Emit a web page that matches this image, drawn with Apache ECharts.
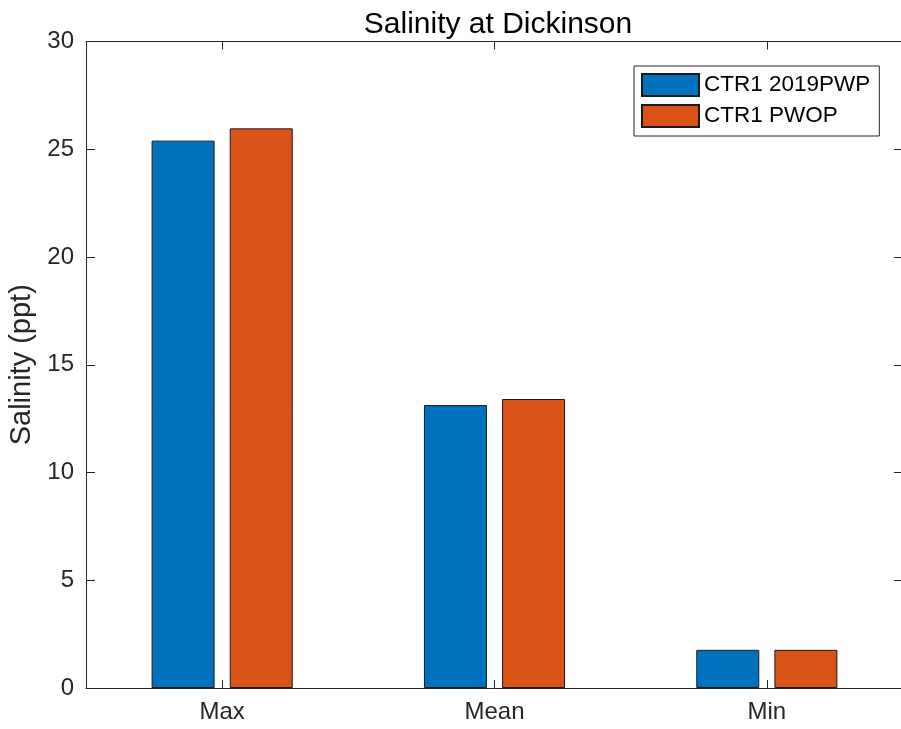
<!DOCTYPE html>
<html><head><meta charset="utf-8">
<script src="https://cdn.jsdelivr.net/npm/echarts@6/dist/echarts.min.js"></script>
<style>html,body{margin:0;padding:0;background:#fff}#c{width:901px;height:729px}</style>
</head><body><div id="c"></div>
<script>
const categories = ['Max', 'Mean', 'Min'];
const seriesNames = ['CTR1 2019PWP', 'CTR1 PWOP'];
const ctr1_2019PWP = [25.4, 13.13, 1.77];
const ctr1_PWOP = [25.97, 13.41, 1.77];
const yTicks = [0, 5, 10, 15, 20, 25, 30];

const FONT = '"Liberation Sans", Arial, sans-serif';
const INK = '#262626';
const chart = echarts.init(document.getElementById('c'), null, {renderer: 'canvas'});
const grid = {left: 86, top: 41.5, width: 817, height: 646.5, containLabel: false, outerBoundsMode: 'none'};
chart.setOption({
  animation: false,
  backgroundColor: '#fff',
  title: {
    text: 'Salinity at Dickinson', left: 493, top: 5, textAlign: 'center',
    textStyle: {fontFamily: FONT, fontSize: 30, fontWeight: 'normal', color: '#000'}
  },
  legend: {
    left: 634, top: 66, orient: 'vertical',
    data: seriesNames,
    itemWidth: 57, itemHeight: 22, itemGap: 7,
    padding: [7, 9, 8, 7],
    borderColor: '#262626', borderWidth: 1, backgroundColor: '#fff',
    icon: 'rect',
    textStyle: {fontFamily: FONT, fontSize: 22.5, color: '#000'}
  },
  grid: grid,
  xAxis: [{
    type: 'category', data: categories, position: 'bottom',
    axisLine: {show: true, onZero: false, lineStyle: {color: INK, width: 1}},
    axisTick: {show: true, inside: true, alignWithLabel: true, length: 8, lineStyle: {color: INK}},
    axisLabel: {fontFamily: FONT, fontSize: 24, color: INK, margin: 12},
    splitLine: {show: false}
  }, {
    type: 'category', data: categories, position: 'top',
    axisLine: {show: true, onZero: false, lineStyle: {color: INK, width: 1}},
    axisTick: {show: true, inside: true, alignWithLabel: true, length: 8, lineStyle: {color: INK}},
    axisLabel: {show: false}, splitLine: {show: false}
  }],
  yAxis: [{
    type: 'value', min: yTicks[0], max: yTicks[yTicks.length - 1], interval: 5, position: 'left',
    name: 'Salinity (ppt)', nameLocation: 'middle', nameGap: 46, nameRotate: 90,
    nameTextStyle: {fontFamily: FONT, fontSize: 29, color: INK},
    axisLine: {show: true, onZero: false, lineStyle: {color: INK, width: 1}},
    axisTick: {show: true, inside: true, length: 9, lineStyle: {color: INK}},
    axisLabel: {fontFamily: FONT, fontSize: 24, color: INK, margin: 12},
    splitLine: {show: false}
  }, {
    type: 'value', min: yTicks[0], max: yTicks[yTicks.length - 1], interval: 5, position: 'right',
    axisLine: {show: true, onZero: false, lineStyle: {color: INK, width: 1}},
    axisTick: {show: true, inside: true, length: 9, lineStyle: {color: INK}},
    axisLabel: {show: false}, splitLine: {show: false}
  }],
  series: [{
    name: seriesNames[0], type: 'bar', data: ctr1_2019PWP, xAxisIndex: 0, yAxisIndex: 0,
    barWidth: 63, barGap: '24%',
    itemStyle: {color: '#0072BD', borderColor: '#1a1a1a', borderWidth: 1}
  }, {
    name: seriesNames[1], type: 'bar', data: ctr1_PWOP, xAxisIndex: 0, yAxisIndex: 0,
    barWidth: 63, barGap: '24%',
    itemStyle: {color: '#D95319', borderColor: '#1a1a1a', borderWidth: 1}
  }]
});
</script></body></html>
